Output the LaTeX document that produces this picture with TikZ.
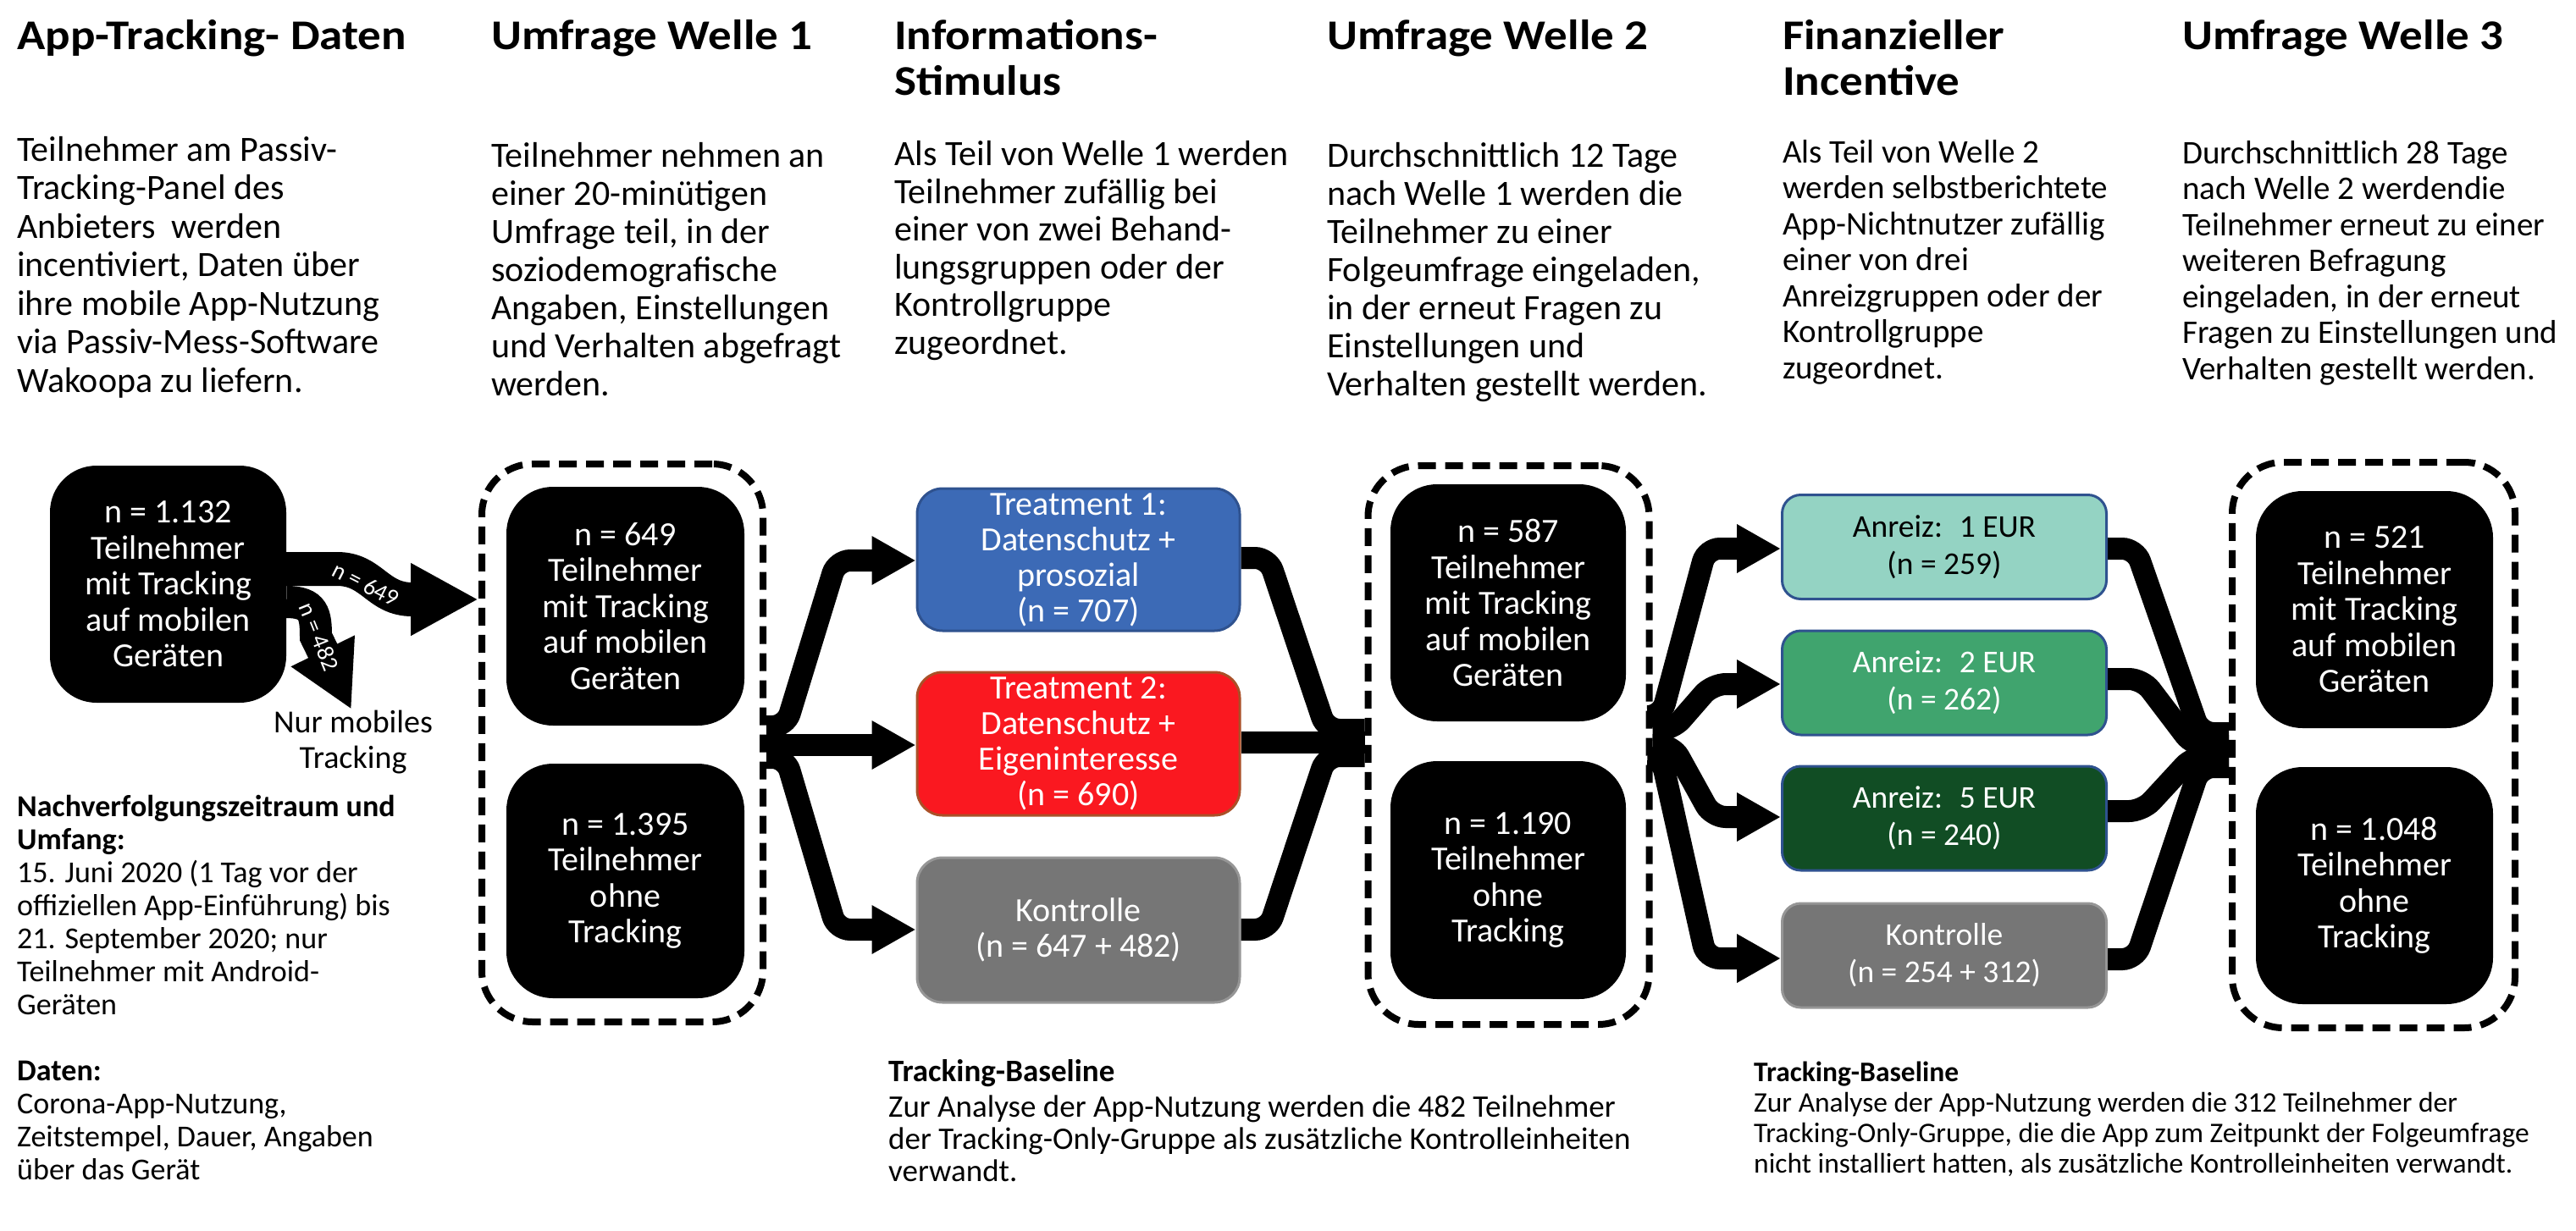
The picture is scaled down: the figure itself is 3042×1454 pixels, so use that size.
\documentclass[tikz,border=0pt]{standalone}
\usepackage{fontspec}
\setmainfont{Carlito}
\newfontfamily\headfont{Carlito}[FakeStretch=1.1]
\usetikzlibrary{arrows.meta,calc}
\definecolor{tblue}{RGB}{60,106,182}
\definecolor{tblueedge}{RGB}{47,82,143}
\definecolor{tred}{RGB}{250,24,32}
\definecolor{trededge}{RGB}{170,80,40}
\definecolor{kgray}{RGB}{118,118,118}
\definecolor{kgrayedge}{RGB}{150,150,150}
\definecolor{aone}{RGB}{148,211,195}
\definecolor{atwo}{RGB}{64,164,110}
\definecolor{afive}{RGB}{17,77,36}
\definecolor{aedge}{RGB}{47,82,143}
\begin{document}
\begin{tikzpicture}[x=1pt,y=-1pt,
  % multi-line nodes are placed by the baseline of their last line
  headline/.style={font=\headfont\bfseries\fontsize{50}{54}\selectfont, anchor=base west, align=left, inner sep=0},
  bodytext/.style={font=\fontsize{42}{45}\selectfont, anchor=base west, align=left, inner sep=0},
  smalltext/.style={font=\fontsize{39}{42.5}\selectfont, anchor=base west, align=left, inner sep=0},
  blackbox/.style={fill=black, text=white, rounded corners=55pt, minimum width=280pt, minimum height=280pt,
    align=center, inner sep=0, font=\fontsize{40}{42.5}\selectfont},
  groupbox/.style={draw=black, line width=8pt, dash pattern=on 21pt off 11pt, rounded corners=60pt,
    minimum width=332pt, minimum height=660pt, inner sep=0},
  treatbox/.style={rounded corners=30pt, line width=3pt, minimum width=381pt, minimum height=169pt,
    align=center, inner sep=0, text=white, font=\fontsize{40}{42}\selectfont},
  incbox/.style={rounded corners=22pt, line width=3pt, minimum width=383pt, minimum height=123pt,
    align=center, inner sep=0, text=white, font=\fontsize{37.5}{44}\selectfont},
  flow/.style={line width=26pt, rounded corners=16pt},
  flowarrow/.style={flow, -{Triangle[length=52pt,width=54pt]}}
]
\useasboundingbox (0,0) rectangle (3042,1454);

% ---------- column headings ----------
\node[headline] (h1) at (20,58) {App-Tracking- Daten};
\node[headline] (h2) at (580,58) {Umfrage Welle 1};
\node[headline] (h3) at (1056,112) {Informations-\\Stimulus};
\node[headline] (h4) at (1567,58) {Umfrage Welle 2};
\node[headline] (h5) at (2105,112) {Finanzieller\\Incentive};
\node[headline] (h6) at (2577,58) {Umfrage Welle 3};

% ---------- column descriptions ----------
\node[bodytext, font=\fontsize{42}{45.5}\selectfont] (d1) at (20,463) {Teilnehmer am Passiv-\\Tracking-Panel des\\Anbieters~ werden\\incentiviert, Daten über\\ihre mobile App-Nutzung\\via Passiv-Mess-Software\\Wakoopa zu liefern.};
\node[bodytext] (d2) at (580,467) {Teilnehmer nehmen an\\einer 20-minütigen\\Umfrage teil, in der\\soziodemografische\\Angaben, Einstellungen\\und Verhalten abgefragt\\werden.};
\node[bodytext, font=\fontsize{42}{44.5}\selectfont] (d3) at (1056,418) {Als Teil von Welle 1 werden\\Teilnehmer zufällig bei\\einer von zwei Behand-\\lungsgruppen oder der\\Kontrollgruppe\\zugeordnet.};
\node[bodytext] (d4) at (1567,467) {Durchschnittlich 12 Tage\\nach Welle 1 werden die\\Teilnehmer zu einer\\Folgeumfrage eingeladen,\\in der erneut Fragen zu\\Einstellungen und\\Verhalten gestellt werden.};
\node[smalltext] (d5) at (2105,447) {Als Teil von Welle 2\\werden selbstberichtete\\App-Nichtnutzer zufällig\\einer von drei\\Anreizgruppen oder der\\Kontrollgruppe\\zugeordnet.};
\node[smalltext] (d6) at (2577,448) {Durchschnittlich 28 Tage\\nach Welle 2 werdendie\\Teilnehmer erneut zu einer\\weiteren Befragung\\eingeladen, in der erneut\\Fragen zu Einstellungen und\\Verhalten gestellt werden.};

% ---------- tracking panel ----------
\node[blackbox, minimum width=279pt] (src) at (198.5,690) {n = 1.132\\Teilnehmer\\mit Tracking\\auf mobilen\\Geräten};

% ---------- wave 1 ----------
\node[groupbox, minimum height=659pt] (g1) at (735,877.5) {};
\node[blackbox, minimum width=281pt, minimum height=282pt] (w1t) at (738.5,716) {n = 649\\Teilnehmer\\mit Tracking\\auf mobilen\\Geräten};
\node[blackbox, minimum width=281pt, minimum height=277pt] (w1n) at (738.5,1040.5) {n = 1.395\\Teilnehmer\\ohne\\Tracking};

% split of the tracking panel
\draw[line width=40pt, -{Triangle[length=80pt,width=80pt]}]
  ($(src.east)+(0,-18)$) -- (398,672) .. controls (440,672) and (445,708) .. (487,708) -- (g1.west |- 0,708);
\draw[line width=38pt, -{Triangle[length=77pt,width=78pt]}]
  ($(src.east)+(0,21)$) .. controls (371,711) and (373,726) .. (373,752) -- (415,838);
\node[white, rotate=-27, font=\fontsize{28}{28}\selectfont, inner sep=0] (l649) at (432,690) {n = 649};
\node[white, rotate=-68, font=\fontsize{28}{28}\selectfont, inner sep=0] (l482) at (377,752) {n = 482};
\node[font=\fontsize{38}{42}\selectfont, align=center, inner sep=0, anchor=base] (mob) at (417,907) {Nur mobiles\\Tracking};

% ---------- information stimulus ----------
\node[treatbox, fill=tblue, draw=tblueedge, minimum height=168pt] (t1) at (1273.5,661) {Treatment 1:\\Datenschutz +\\prosozial\\(n = 707)};
\node[treatbox, fill=tred, draw=trededge] (t2) at (1273.5,878.5) {Treatment 2:\\Datenschutz +\\Eigeninteresse\\(n = 690)};
\node[treatbox, fill=kgray, draw=kgrayedge, minimum height=171pt] (k1) at (1273.5,1098.5) {Kontrolle\\(n = 647 + 482)};

% ---------- wave 2 ----------
\node[groupbox] (g2) at (1781.5,880) {};
\node[blackbox, minimum width=278pt] (w2t) at (1781,712) {n = 587\\Teilnehmer\\mit Tracking\\auf mobilen\\Geräten};
\node[blackbox, minimum width=278pt, minimum height=281pt] (w2n) at (1781,1039.5) {n = 1.190\\Teilnehmer\\ohne\\Tracking};

% ---------- financial incentive ----------
\node[incbox, fill=aone, draw=aedge, text=black] (a1) at (2296,646) {Anreiz:~ 1 EUR\\(n = 259)};
\node[incbox, fill=atwo, draw=aedge] (a2) at (2296,806.5) {Anreiz:~ 2 EUR\\(n = 262)};
\node[incbox, fill=afive, draw=aedge] (a5) at (2296,966.5) {Anreiz:~ 5 EUR\\(n = 240)};
\node[incbox, fill=kgray, draw=kgrayedge] (k2) at (2296,1128.5) {Kontrolle\\(n = 254 + 312)};

% ---------- wave 3 ----------
\node[groupbox, minimum width=334pt, minimum height=668pt] (g3) at (2803,880) {};
\node[blackbox] (w3t) at (2804,720) {n = 521\\Teilnehmer\\mit Tracking\\auf mobilen\\Geräten};
\node[blackbox] (w3n) at (2804,1046) {n = 1.048\\Teilnehmer\\ohne\\Tracking};

% ---------- flows: wave 1 -> stimulus ----------
\draw[flowarrow] (g1.east |- 0,858) -- (928,858) -- (988,662) -- (t1.west |- 0,662);
\draw[flowarrow] (g1.east |- 0,880) -- (t2.west |- 0,880);
\draw[flowarrow] (g1.east |- 0,895) -- (928,895) -- (988,1098) -- (k1.west |- 0,1098);

% ---------- flows: stimulus -> wave 2 ----------
\draw[flow] (t1.east |- 0,659) -- (1498,659) -- (1566,862) -- (g2.west |- 0,862);
\draw[flow] (t2.east |- 0,877) -- (g2.west |- 0,877);
\draw[flow] (k1.east |- 0,1098) -- (1498,1098) -- (1566,893) -- (g2.west |- 0,893);

% ---------- flows: wave 2 -> incentive ----------
\draw[flowarrow] (g2.east |- 0,846) -- (1962,846) -- (2015,648) -- (a1.west |- 0,648);
\draw[flowarrow] (g2.east |- 0,862) -- (1975,862) -- (2022,808) -- (a2.west |- 0,808);
\draw[flowarrow] (g2.east |- 0,880) -- (1975,880) -- (2022,965) -- (a5.west |- 0,965);
\draw[flowarrow] (g2.east |- 0,895) -- (1962,895) -- (2015,1132) -- (k2.west |- 0,1132);

% ---------- flows: incentive -> wave 3 ----------
\draw[flow] (a1.east |- 0,648) -- (2522,648) -- (2598,866) -- (g3.west |- 0,866);
\draw[flow] (a2.east |- 0,802) -- (2530,802) -- (2590,881) -- (g3.west |- 0,881);
\draw[flow] (a5.east |- 0,958) -- (2530,958) -- (2590,893) -- (g3.west |- 0,893);
\draw[flow] (k2.east |- 0,1133) -- (2522,1133) -- (2598,906) -- (g3.west |- 0,906);

% ---------- notes ----------
\node[font=\fontsize{36}{39}\selectfont, anchor=base west, align=left, inner sep=0] (n1) at (20,1393)
  {\textbf{Nachverfolgungszeitraum und}\\\textbf{Umfang:}\\15. Juni 2020 (1 Tag vor der\\offiziellen App-Einführung) bis\\21. September 2020; nur\\Teilnehmer mit Android-\\Geräten\\[39pt]\textbf{Daten:}\\Corona-App-Nutzung,\\Zeitstempel, Dauer, Angaben\\über das Gerät};
\node[font=\fontsize{37}{38}\selectfont, anchor=base west, align=left, inner sep=0] (n2) at (1049,1395)
  {\textbf{Tracking-Baseline}\\[4pt]Zur Analyse der App-Nutzung werden die 482 Teilnehmer\\der Tracking-Only-Gruppe als zusätzliche Kontrolleinheiten\\verwandt.};
\node[font=\fontsize{33.5}{36}\selectfont, anchor=base west, align=left, inner sep=0] (n3) at (2071,1385)
  {\textbf{Tracking-Baseline}\\Zur Analyse der App-Nutzung werden die 312 Teilnehmer der\\Tracking-Only-Gruppe, die die App zum Zeitpunkt der Folgeumfrage\\nicht installiert hatten, als zusätzliche Kontrolleinheiten verwandt.};
\end{tikzpicture}
\end{document}
